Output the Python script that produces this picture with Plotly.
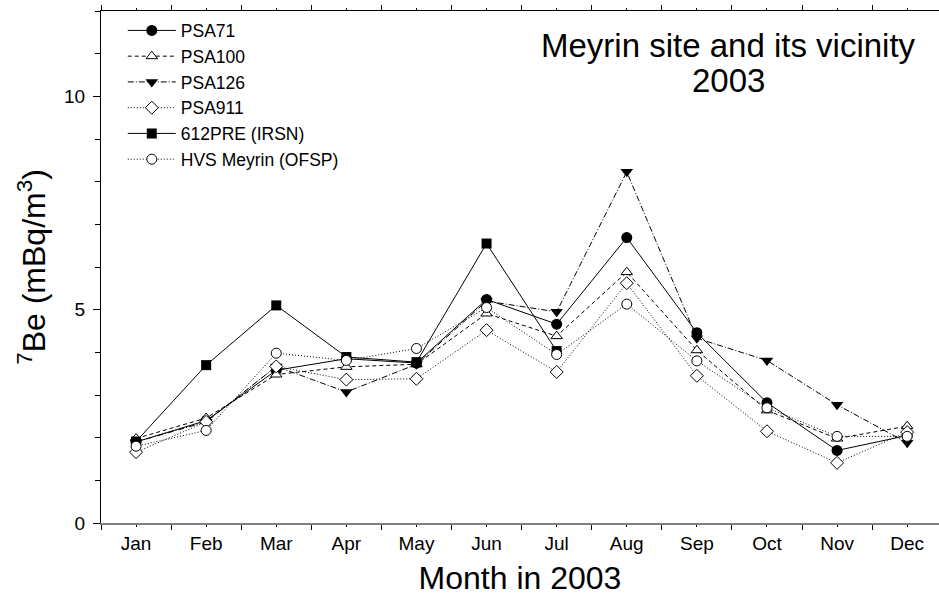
import plotly.graph_objects as go

# Monthly 7Be activity concentrations around the Meyrin site, 2003
months = ["Jan", "Feb", "Mar", "Apr", "May", "Jun",
          "Jul", "Aug", "Sep", "Oct", "Nov", "Dec"]
month_pos = list(range(1, 13))

psa71 = [1.90, 2.40, 3.58, 3.85, 3.75, 5.24, 4.66, 6.69, 4.46, 2.82, 1.70, 2.05]
psa100 = [1.98, 2.46, 3.48, 3.66, 3.72, 4.91, 4.38, 5.88, 4.05, 2.64, 1.98, 2.27]
psa126 = [1.90, 2.37, 3.67, 3.07, 3.72, 5.20, 4.95, 8.23, 4.33, 3.81, 2.77, 1.88]
psa911 = [1.66, 2.37, 3.67, 3.36, 3.38, 4.52, 3.54, 5.62, 3.45, 2.15, 1.41, 2.13]
pre612 = [1.91, 3.70, 5.10, 3.89, 3.77, 6.55, 4.03, None, None, None, None, None]
hvs_meyrin = [1.80, 2.17, 3.98, 3.81, 4.09, 5.05, 3.95, 5.13, 3.80, 2.70, 2.03, 2.03]

FONT = "Liberation Sans, Arial, sans-serif"

series = [
    ("PSA71", psa71, "solid", "circle", 11, True),
    ("PSA100", psa100, "4px,3px", "triangle-up", 10, False),
    ("PSA126", psa126, "6px,2px,1px,2px", "triangle-down", 11, True),
    ("PSA911", psa911, "1px,2px", "diamond", 10, False),
    ("612PRE (IRSN)", pre612, "solid", "square", 10, True),
    ("HVS Meyrin (OFSP)", hvs_meyrin, "1px,2px", "circle", 10, False),
]

fig = go.Figure()
for name, vals, dash, sym, size, filled in series:
    fig.add_trace(go.Scatter(
        x=month_pos, y=vals, name=name, mode="lines+markers",
        line=dict(color="black", width=1, dash=dash),
        marker=dict(symbol=sym, size=size,
                    color="black" if filled else "white",
                    line=dict(color="black", width=0 if filled else 1)),
        connectgaps=False,
    ))

# top frame axis carrying the mirrored ticks
fig.add_trace(go.Scatter(x=[], y=[], xaxis="x2", showlegend=False, hoverinfo="skip"))

xr = [0.5, 12.454]
bounds = [m - 0.5 for m in month_pos] + [12.5]

fig.update_layout(
    width=939, height=600,
    margin=dict(l=101, r=0, t=11, b=77),
    paper_bgcolor="white", plot_bgcolor="white",
    font=dict(family=FONT, size=19, color="black"),
    showlegend=True,
    legend=dict(x=0.026, y=0.997, xanchor="left", yanchor="top",
                bgcolor="rgba(0,0,0,0)", font=dict(size=17.5),
                itemwidth=48, tracegroupgap=0),
    xaxis=dict(
        range=xr, tickmode="array", tickvals=month_pos, ticktext=months,
        ticks="outside", ticklen=2, tickwidth=1, tickcolor="black",
        showline=True, linecolor="#808080", linewidth=2,
        showgrid=False, zeroline=False,
        tickfont=dict(size=19),
        minor=dict(tickmode="array", tickvals=bounds, ticks="outside",
                   ticklen=5, tickwidth=1, tickcolor="black"),
        title=dict(text="Month in 2003", font=dict(size=32), standoff=14),
    ),
    xaxis2=dict(
        range=xr, overlaying="x", side="top", anchor="y",
        tickmode="array", tickvals=bounds, ticks="outside", ticklen=5,
        tickcolor="black", showticklabels=False,
        showline=True, linecolor="black", linewidth=1,
        showgrid=False, zeroline=False,
        minor=dict(tickmode="array", tickvals=month_pos, ticks="outside",
                   ticklen=2, tickcolor="black"),
    ),
    yaxis=dict(
        range=[0, 12], tickmode="array", tickvals=[0, 5, 10],
        ticks="outside", ticklen=7, tickcolor="black",
        showline=True, linecolor="black", linewidth=1,
        showgrid=False, zeroline=False,
        tickfont=dict(size=19), ticklabelstandoff=4,
        minor=dict(dtick=1, tick0=0, ticks="outside", ticklen=5, tickcolor="black"),
        title=dict(text="<sup>7</sup>Be (mBq/m<sup>3</sup>)", font=dict(size=32), standoff=8),
    ),
    annotations=[
        dict(text="Meyrin site and its vicinity",
             xref="paper", yref="paper", x=0.749, y=(523 - 45) / 512,
             xanchor="center", yanchor="middle", showarrow=False,
             font=dict(size=33, family=FONT)),
        dict(text="2003",
             xref="paper", yref="paper", x=0.749, y=(523 - 80) / 512,
             xanchor="center", yanchor="middle", showarrow=False,
             font=dict(size=33, family=FONT)),
    ],
)

fig.write_html("out.html")
